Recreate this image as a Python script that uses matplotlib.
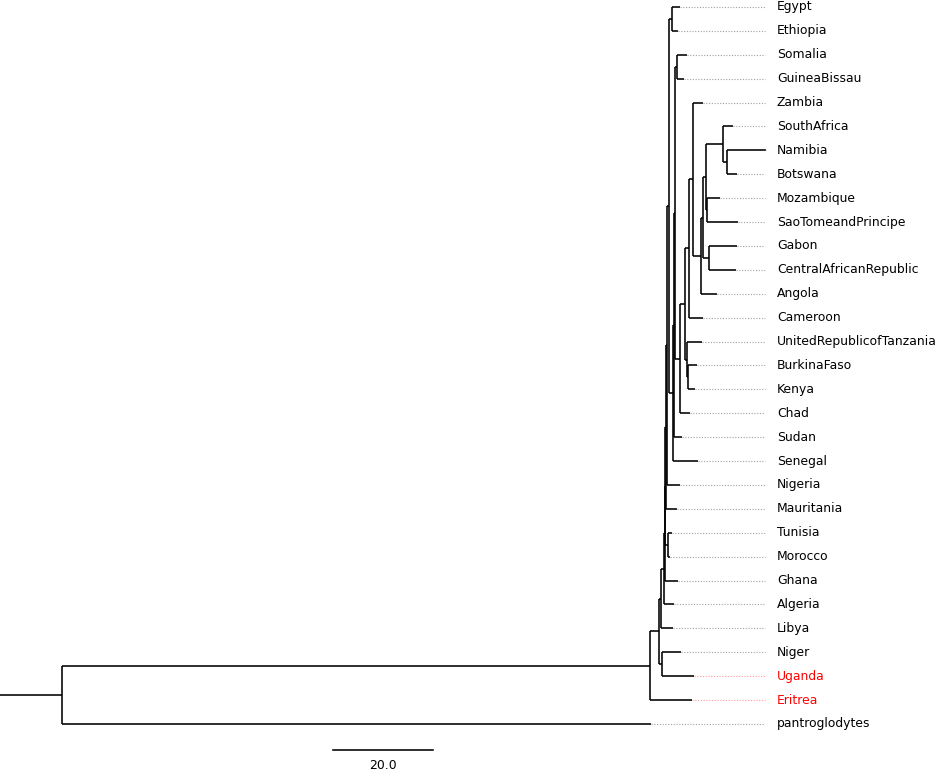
import matplotlib
matplotlib.use("Agg")
import matplotlib.pyplot as plt

# tree (branch lengths in scale-bar units)
newick = (
    "(((((((((((Egypt:1.6,Ethiopia:1.2):0.6,"
    "((((Somalia:2.0,GuineaBissau:1.4):0.4,"
    "((((Zambia:2.0,((((SouthAfrica:2.0,(Namibia:7.8,Botswana:2.0):0.8):3.4,"
    "(Mozambique:2.6,SaoTomeandPrincipe:6.2):0.2):0.6,"
    "(Gabon:5.6,CentralAfricanRepublic:5.4):1.2):0.4,"
    "Angola:3.2):1.6):0.8,"
    "Cameroon:2.8):0.8,"
    "(UnitedRepublicofTanzania:3.0,(BurkinaFaso:1.8,Kenya:1.4):0.2):0.4):1.0,"
    "Chad:2.0):1.0):0.2,"
    "Sudan:1.6):0.2,"
    "Senegal:5.0):0.8):0.4,"
    "Nigeria:2.6):0.2,"
    "Mauritania:2.2):0.1,"
    "(Tunisia:0.8,Morocco:0.4):0.5):0.1,"
    "Ghana:2.6):0.2,"
    "Algeria:2.0):0.6,"
    "Libya:2.4):0.4,"
    "(Niger:3.8,Uganda:6.4):0.6):1.8,"
    "Eritrea:8.4):117.6,"
    "pantroglodytes:117.8):12.4;"
)
highlight = ["Uganda", "Eritrea"]
scale_len = 20.0


def parse(s):
    pos = 0

    def node():
        nonlocal pos
        n = {"children": [], "name": "", "len": 0.0}
        if s[pos] == "(":
            pos += 1
            while True:
                n["children"].append(node())
                if s[pos] == ",":
                    pos += 1
                    continue
                pos += 1  # ')'
                break
        start = pos
        while s[pos] not in ",():;":
            pos += 1
        n["name"] = s[start:pos]
        if s[pos] == ":":
            pos += 1
            start = pos
            while s[pos] not in ",();":
                pos += 1
            n["len"] = float(s[start:pos])
        return n

    return node()


tree = parse(newick)
leaves = []


def layout(n, x):
    n["x"] = x
    if not n["children"]:
        n["y"] = len(leaves)
        leaves.append(n)
    else:
        for c in n["children"]:
            layout(c, x + c["len"])
        n["y"] = (n["children"][0]["y"] + n["children"][-1]["y"]) / 2


layout(tree, 0.0)

fig = plt.figure(figsize=(9.41, 7.72), dpi=100)
ax = fig.add_axes([0, 0, 1, 1])
lw = 1.15


def draw(n):
    ax.plot([n["x"] - n["len"], n["x"]], [n["y"], n["y"]], color="black", lw=lw,
            solid_capstyle="butt")
    if n["children"]:
        ax.plot([n["x"], n["x"]], [n["children"][0]["y"], n["children"][-1]["y"]],
                color="black", lw=lw, solid_capstyle="butt")
        for c in n["children"]:
            draw(c)


draw(tree)

tip_end = 140.6
for lf in leaves:
    col = "red" if lf["name"] in highlight else "black"
    dcol = "#ff9999" if lf["name"] in highlight else "#a0a0a0"
    ax.plot([lf["x"], tip_end], [lf["y"], lf["y"]], color=dcol, lw=0.8,
            linestyle=(0, (1, 1.5)))
    ax.text(tip_end + 2.4, lf["y"], lf["name"], color=col, fontsize=8.9,
            va="center", ha="left", family="DejaVu Sans")

# scale bar
tr = ax.get_xaxis_transform()
x0 = 54.2
ax.plot([x0, x0 + scale_len], [0.0285, 0.0285], color="black", lw=lw, transform=tr)
ax.text(x0 + scale_len / 2, 0.009, f"{scale_len:.1f}", ha="center", va="center",
        fontsize=8.9, transform=tr)

ax.set_xlim(-12.4, 175.8)
ax.set_ylim((772 - 7) / 23.9, -7 / 23.9)
ax.axis("off")

fig.savefig("out.png", dpi=100)
